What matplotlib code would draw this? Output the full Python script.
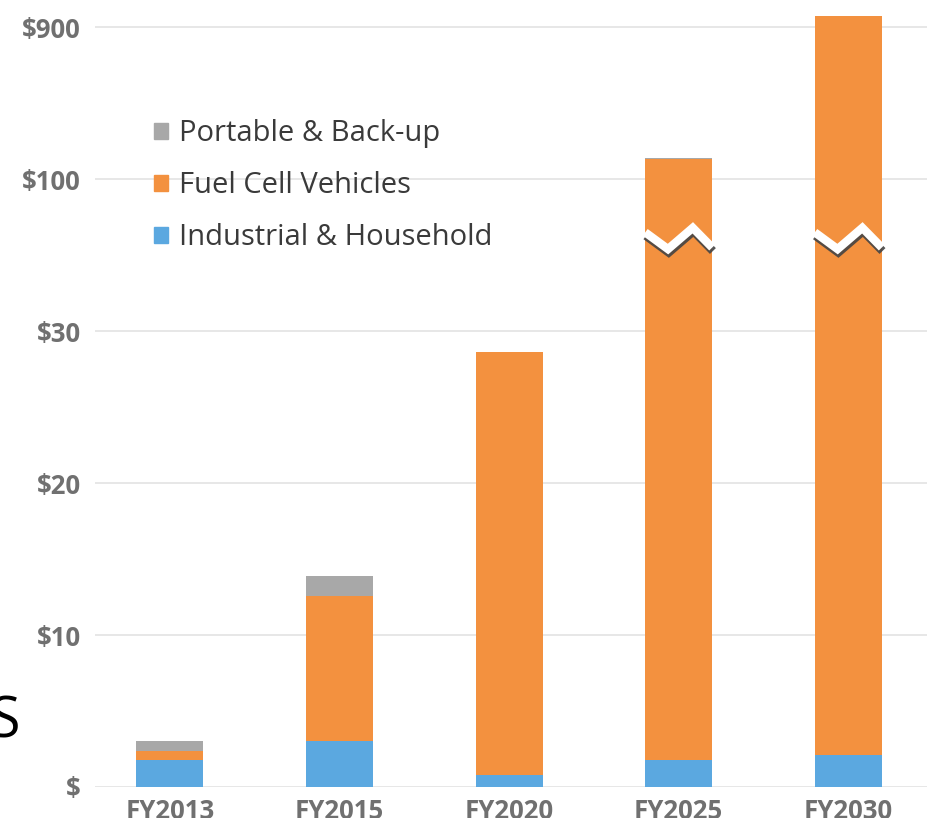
#!/usr/bin/env python3
"""
Fuel cell market forecast: stacked bars on a broken, piecewise y-axis.
"""

import matplotlib
matplotlib.use('Agg')
import matplotlib.pyplot as plt
import matplotlib.patheffects as pe
from matplotlib.patches import Patch
import numpy as np

# === DATA ===
years = ['FY2013', 'FY2015', 'FY2020', 'FY2025', 'FY2030']

industrial = [1.8, 3.0, 0.8, 1.8, 2.1]
vehicles = [0.6, 9.6, 27.8, 205.0, 955.0]
portable = [0.6, 1.3, 0.0, 3.0, 3.0]

tick_values = [0, 10, 20, 30, 100, 900]
tick_labels = ['$', '$10', '$20', '$30', '$100', '$900']

# piecewise mapping: every tick sits one step above the previous one
scale_vals = [0, 10, 20, 30, 100, 900, 1700]
scale_pos = [0, 1, 2, 3, 4, 5, 6]


def forward(v):
    return np.interp(v, scale_vals, scale_pos)


def inverse(p):
    return np.interp(p, scale_pos, scale_vals)


c_blue = '#5ba8e0'
c_orange = '#f3913f'
c_gray = '#a8a8a8'

# === FIGURE ===
plt.rcParams['font.family'] = ['Open Sans', 'DejaVu Sans']
fig = plt.figure(figsize=(9.28, 8.18), dpi=100)
ax = fig.add_axes([95 / 928, 31 / 818, 833 / 928, 778 / 818])
ax.set_yscale('function', functions=(forward, inverse))

x = np.arange(len(years))
w = 0.395
bot2 = np.array(industrial) + np.array(vehicles)
ax.bar(x, industrial, w, color=c_blue, zorder=2)
ax.bar(x, vehicles, w, bottom=industrial, color=c_orange, zorder=2)
ax.bar(x, portable, w, bottom=bot2, color=c_gray, zorder=2)

# zigzag break marks on the two tall bars
brk = 3.6
zx = np.array([-0.5, -0.16, 0.21, 0.5]) * w
zy = np.array([0.05, -0.06, 0.08, -0.05]) + brk
for i in [3, 4]:
    ax.plot(x[i] + zx, inverse(zy), color='white', lw=6, zorder=3,
            solid_joinstyle='miter', solid_capstyle='butt',
            path_effects=[pe.SimpleLineShadow(offset=(0.5, -2.5), shadow_color='#444444', alpha=0.9),
                          pe.Normal()])

ax.set_xlim(-0.442, 4.47)
ax.set_ylim(0, inverse(5.12))
ax.set_yticks(tick_values)
ax.set_yticklabels(tick_labels)
ax.set_xticks(x)
ax.set_xticklabels(years)
ax.yaxis.set_minor_locator(matplotlib.ticker.NullLocator())

ax.grid(axis='y', color='#e3e3e3', lw=1.2, zorder=0)
ax.set_axisbelow(True)
for s in ax.spines.values():
    s.set_visible(False)
ax.tick_params(axis='both', length=0, colors='#707070')
ax.tick_params(axis='y', pad=10)
ax.tick_params(axis='x', pad=8)
for lab in ax.get_yticklabels():
    lab.set_fontsize(18.5)
    lab.set_fontweight('bold')
for lab in ax.get_xticklabels():
    lab.set_fontsize(18.5)
    lab.set_fontweight('bold')

handles = [Patch(color=c_gray), Patch(color=c_orange), Patch(color=c_blue)]
labels = ['Portable & Back-up', 'Fuel Cell Vehicles', 'Industrial & Household']
ax.legend(handles, labels, loc='upper left', bbox_to_anchor=(0.039, 0.892),
          frameon=False, fontsize=21, handlelength=0.5, handleheight=0.5,
          handletextpad=0.38, labelspacing=0.79, labelcolor='#3a3a3a')

# stray clipped letter at the left edge of the source picture
fig.text(-0.012, 0.099, 'S', fontsize=40, color='black', ha='left', va='baseline')

plt.savefig('out.png', dpi=100, facecolor='white')
